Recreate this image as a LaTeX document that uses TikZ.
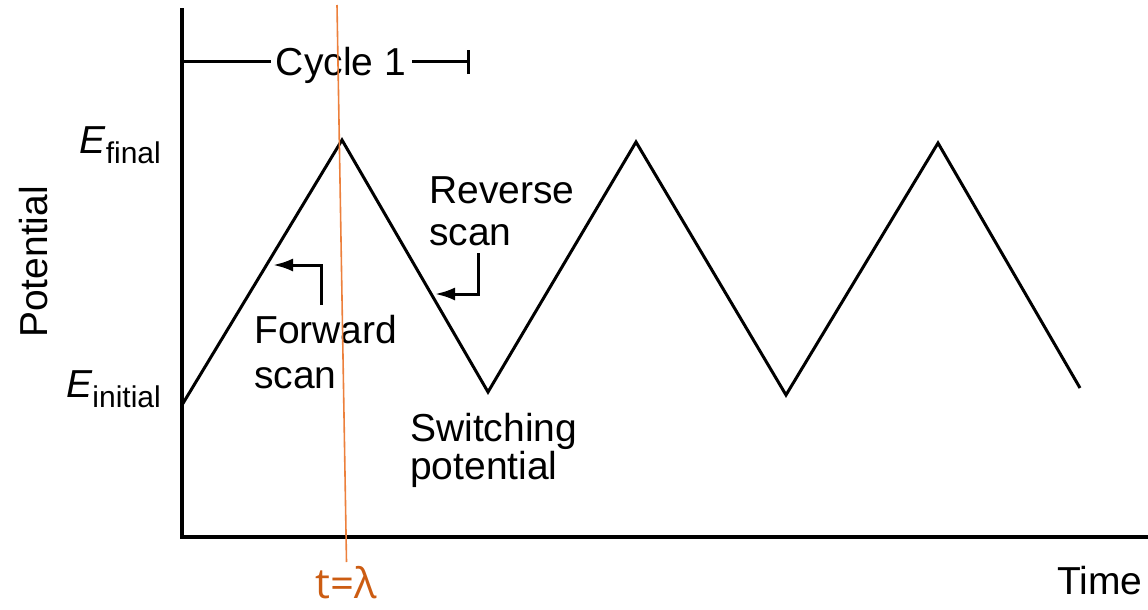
\documentclass[tikz,border=0pt]{standalone}
\usepackage{fontspec}
\setmainfont{Liberation Sans}
\newfontfamily\lamfont{Open Sans}
\usetikzlibrary{arrows.meta}
\definecolor{orline}{RGB}{236,128,60}
\definecolor{ortext}{RGB}{204,92,18}
\begin{document}
\begin{tikzpicture}[x=1pt,y=-1pt,
  axis/.style={line width=3.4pt,line cap=rect},
  wave/.style={line width=3pt,line join=miter},
  lbl/.style={inner sep=0pt,font=\fontsize{39}{44}\selectfont},
  pointer/.style={line width=3pt,-{Latex[length=20pt,width=13pt]}},
  brk/.style={line width=3pt}]
\useasboundingbox (0,0) rectangle (1148,610);
% axes
\coordinate (O) at (182,537);
\coordinate (ytop) at (182,10);
\coordinate (xend) at (1148,537);
\draw[axis] (ytop) -- (O) -- (xend);
% wave
\coordinate (w0) at (182,405);
\coordinate (w1) at (342,140);
\coordinate (w2) at (488,392);
\coordinate (w3) at (636,142);
\coordinate (w4) at (786,395);
\coordinate (w5) at (938,143);
\coordinate (w6) at (1080,388);
\draw[wave] (w0) -- (w1) -- (w2) -- (w3) -- (w4) -- (w5) -- (w6);
% cycle bracket
\node[lbl,anchor=base] (cyc) at (341,75) {Cycle 1};
\coordinate (cl) at (182,62);
\coordinate (cr) at (468,62);
\draw[brk] (cl) -- ([xshift=-5pt]cyc.west |- cl);
\draw[brk] ([xshift=6pt]cyc.east |- cr) -- (cr);
\draw[brk] ([yshift=-12pt]cr) -- ([yshift=12pt]cr);
% E labels
\node[lbl,anchor=base east] (ef) at (161,153) {\textit{E}\raisebox{-10pt}{\fontsize{30}{34}\selectfont final}};
\node[lbl,anchor=base east] (ei) at (161,397) {\textit{E}\raisebox{-10pt}{\fontsize{30}{34}\selectfont initial}};
% Potential
\node[lbl,rotate=90,anchor=base] (pot) at (47,262) {Potential};
% Forward scan
\node[lbl,anchor=base west] (fw1) at (254,343) {Forward};
\node[lbl,anchor=base west] (fw2) at (254,388) {scan};
\coordinate (fa0) at (321,305);
\coordinate (fa1) at (321,265);
\coordinate (fa2) at (273,265);
\draw[pointer] (fa0) -- (fa1) -- (fa2);
% Reverse scan
\node[lbl,anchor=base west] (rv1) at (429,203) {Reverse};
\node[lbl,anchor=base west] (rv2) at (429,245) {scan};
\coordinate (ra0) at (478,253);
\coordinate (ra1) at (478,294);
\coordinate (ra2) at (435,294);
\draw[pointer] (ra0) -- (ra1) -- (ra2);
% Switching potential
\node[lbl,anchor=base west] (sw1) at (410,441) {Switching};
\node[lbl,anchor=base west] (sw2) at (410,479) {potential};
% Time
\node[lbl,anchor=base west] (time) at (1057,594) {Time};
% orange line
\coordinate (ot) at (337,5);
\coordinate (ob) at (346.5,562);
\draw[orline,line width=1.6pt] (ot) -- (ob);
\node[inner sep=0pt,anchor=base,text=ortext,font=\lamfont\fontsize{42}{46}\selectfont] (lam) at (346,598) {t=λ};
\end{tikzpicture}
\end{document}
